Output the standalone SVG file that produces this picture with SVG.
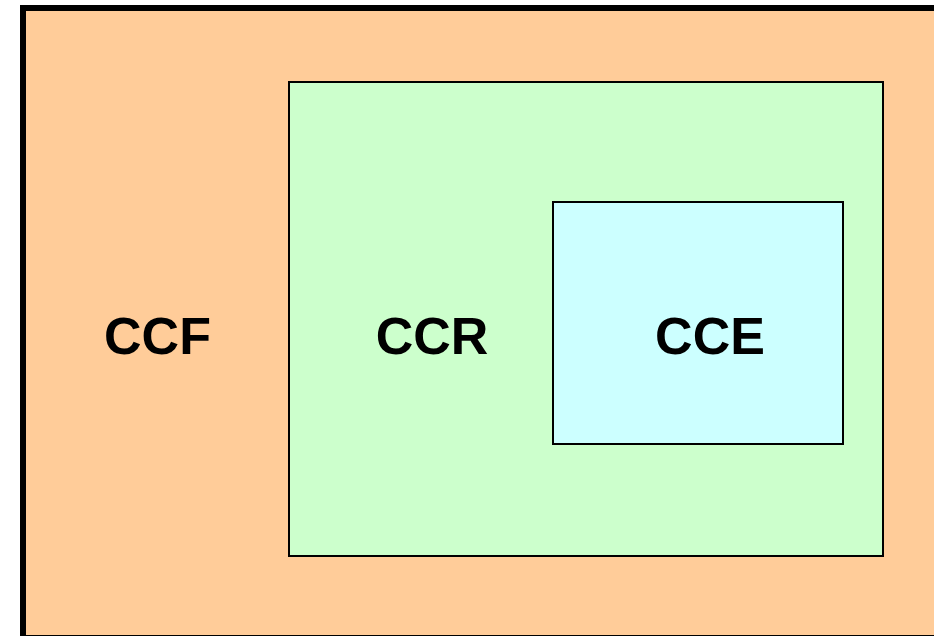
<svg xmlns="http://www.w3.org/2000/svg" width="934" height="636" viewBox="0 0 934 636">
<style>
.lbl{font-family:"Liberation Sans",Arial,sans-serif;font-weight:bold;font-size:52px;fill:#000;text-anchor:middle}
</style>
<rect width="934" height="636" fill="#fff"/>
<g id="ccf">
<rect x="23" y="8" width="940" height="630" fill="#FFCC99" stroke="#000" stroke-width="6"/>
<text class="lbl" x="157.5" y="354">CCF</text>
</g>
<g id="ccr">
<rect x="289" y="82" width="594" height="474" fill="#CCFFCC" stroke="#000" stroke-width="2"/>
<text class="lbl" x="432" y="354">CCR</text>
</g>
<g id="cce">
<rect x="553" y="202" width="290" height="242" fill="#CCFFFF" stroke="#000" stroke-width="2"/>
<text class="lbl" x="710" y="354">CCE</text>
</g>
<g id="connectors"/>
</svg>
